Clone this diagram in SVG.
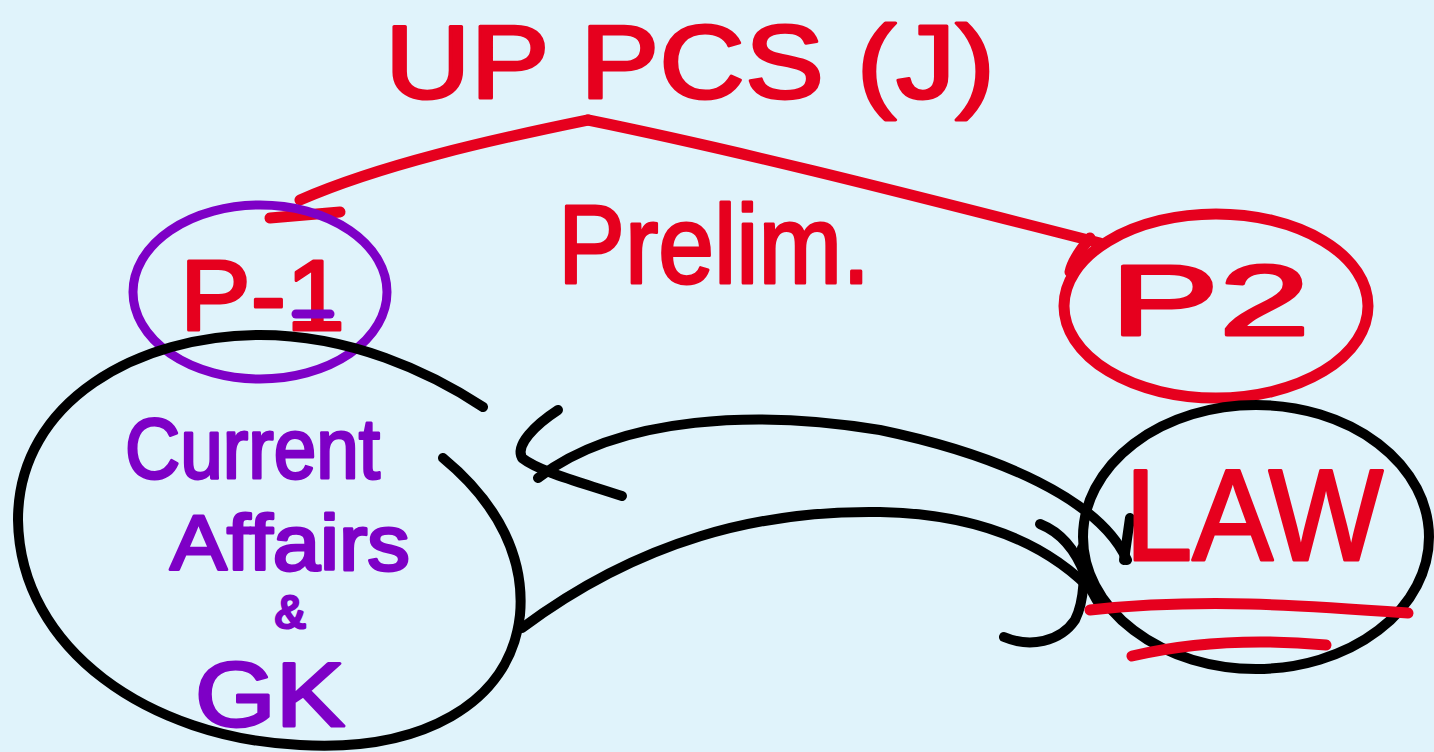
<svg xmlns="http://www.w3.org/2000/svg" width="1434" height="752" viewBox="0 0 1434 752">
<style>
.bg{fill:#E0F3FB}
.red{fill:#E6001E;stroke:#E6001E;stroke-width:3;stroke-linejoin:round}
.pur{fill:#7E00C6;stroke:#7E00C6;stroke-width:3;stroke-linejoin:round}
.t{font-family:"Liberation Sans","DejaVu Sans",sans-serif}
.sr{fill:none;stroke:#E6001E;stroke-width:11;stroke-linecap:round;stroke-linejoin:round}
.sp{fill:none;stroke:#7E00C6;stroke-width:9;stroke-linecap:round;stroke-linejoin:round}
.sk{fill:none;stroke:#000;stroke-width:10;stroke-linecap:round;stroke-linejoin:round}
</style>
<rect class="bg" x="0" y="0" width="1434" height="752"/>

<g id="connectors">
  <path class="sr" d="M588,120 C490,140 380,165 300,200"/>
  <path class="sr" d="M270,218 L340,212"/>
  <path class="sr" d="M588,120 C760,155 950,205 1100,243"/>
  <path class="sr" d="M1090,238 C1080,250 1072,262 1070,272"/>
  <!-- upper arrow LAW -> Current Affairs & GK -->
  <path class="sk" d="M1127,560 C1100,500 1000,455 880,430 C760,410 620,415 538,478"/>
  <path class="sk" d="M558,410 C535,425 515,445 522,458 C540,472 580,482 622,496"/>
  <path class="sk" d="M1130,518 L1124,560"/>
  <!-- lower arrow Current Affairs & GK -> LAW -->
  <path class="sk" d="M522,628 C640,540 760,510 880,512 C980,514 1050,545 1096,595"/>
  <path class="sk" d="M1040,524 C1060,532 1075,548 1085,575 C1090,588 1095,598 1100,605"/>
  <path class="sk" d="M1004,637 C1030,648 1060,642 1075,620 C1085,600 1085,570 1082,548"/>
</g>

<g id="node-title">
  <text class="t red" x="690" y="98" font-size="104" text-anchor="middle" textLength="610" lengthAdjust="spacingAndGlyphs">UP PCS (J)</text>
</g>

<g id="node-prelim">
  <text class="t red" x="558" y="283" font-size="112" textLength="312" lengthAdjust="spacingAndGlyphs">Prelim.</text>
</g>

<g id="node-p1">
  <ellipse class="sp" cx="260" cy="292" rx="127" ry="87"/>
  <text class="t red" x="180" y="330" font-size="100" textLength="165" lengthAdjust="spacingAndGlyphs">P-1</text>
  <path class="sp" d="M296,314 L330,314"/>
</g>

<g id="node-p2">
  <ellipse class="sr" cx="1216" cy="306" rx="152" ry="92"/>
  <text class="t red" x="1110" y="335" font-size="100" textLength="200" lengthAdjust="spacingAndGlyphs">P2</text>
</g>

<g id="node-ca-gk">
  <path class="sk" d="M443,458 C500,505 525,560 520,615 C510,705 420,752 300,745 C150,738 20,650 18,520 C18,400 140,335 260,335 C350,335 430,372 483,407"/>
  <text class="t pur" x="125" y="478" font-size="86" textLength="255" lengthAdjust="spacingAndGlyphs">Current</text>
  <text class="t pur" x="170" y="570" font-size="78" textLength="240" lengthAdjust="spacingAndGlyphs">Affairs</text>
  <text class="t pur" x="290" y="628" font-size="46" text-anchor="middle">&amp;</text>
  <text class="t pur" x="195" y="726" font-size="90" textLength="150" lengthAdjust="spacingAndGlyphs">GK</text>
</g>

<g id="node-law">
  <ellipse class="sk" cx="1256" cy="537" rx="173" ry="132"/>
  <text class="t red" x="1125" y="560" font-size="130" textLength="258" lengthAdjust="spacingAndGlyphs">LAW</text>
  <path class="sr" d="M1090,610 C1200,598 1300,605 1408,613"/>
  <path class="sr" d="M1132,656 C1200,640 1270,640 1326,645"/>
</g>
</svg>
